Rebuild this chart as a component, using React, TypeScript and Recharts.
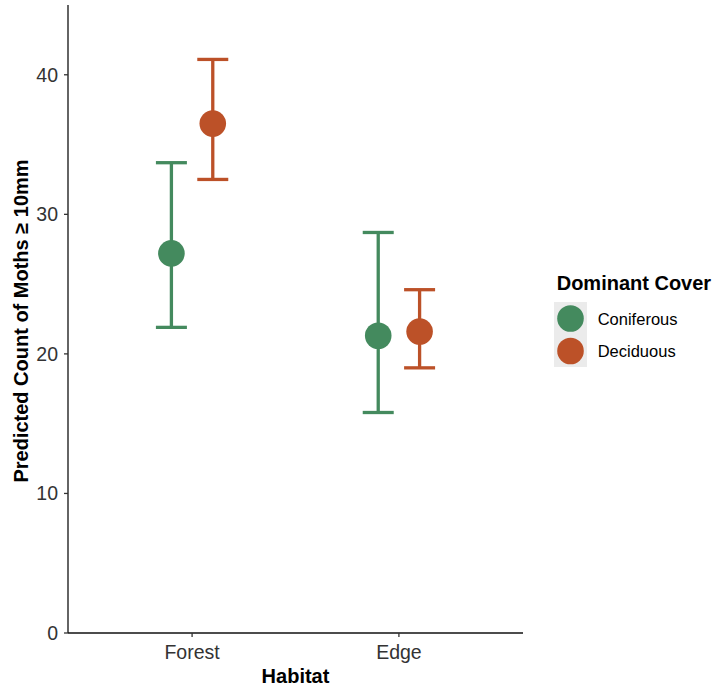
import React from 'react';
import { ScatterChart, Scatter, XAxis, YAxis, ErrorBar } from 'recharts';

const habitats = ['Forest', 'Edge'];
const coverTypes = ['Coniferous', 'Deciduous'];
const coniferousFit = [27.2, 21.3];
const coniferousLower = [21.9, 15.8];
const coniferousUpper = [33.7, 28.7];
const deciduousFit = [36.5, 21.6];
const deciduousLower = [32.5, 19.0];
const deciduousUpper = [41.1, 24.6];
const yTicks = [0, 10, 20, 30, 40];

const GREEN = '#448A5E';
const ORANGE = '#BC5128';
const FONT = '"Liberation Sans", Arial, Helvetica, sans-serif';
const DODGE = 0.1;

const build = (fit: number[], lower: number[], upper: number[], offset: number) =>
  habitats.map((h, i) => ({
    habitat: h,
    x: i + 1 + offset,
    y: fit[i],
    err: [fit[i] - lower[i], upper[i] - fit[i]],
  }));

const coniferousData = build(coniferousFit, coniferousLower, coniferousUpper, -DODGE);
const deciduousData = build(deciduousFit, deciduousLower, deciduousUpper, DODGE);

const dot = (color: string) => (props: any) => (
  <circle cx={props.cx} cy={props.cy} r={13.3} fill={color} />
);

const XLabel = (props: any) => {
  const vb = props.viewBox || {};
  return (
    <text
      x={vb.x + vb.width / 2}
      y={vb.y + vb.height - 6}
      textAnchor="middle"
      fontFamily={FONT}
      fontWeight={700}
      fontSize={20}
      fill="#000"
    >
      Habitat
    </text>
  );
};

const YLabel = (props: any) => {
  const vb = props.viewBox || {};
  const cx = 27.5;
  const cy = vb.y + vb.height / 2 + 2;
  return (
    <text
      x={cx}
      y={cy}
      transform={`rotate(-90 ${cx} ${cy})`}
      textAnchor="middle"
      fontFamily={FONT}
      fontWeight={700}
      fontSize={20}
      fill="#000"
    >
      Predicted Count of Moths ≥ 10mm
    </text>
  );
};

const colors = [GREEN, ORANGE];

export default function App() {
  return (
    <div style={{ position: 'absolute', left: 0, top: 0, width: 717, height: 689, background: '#fff' }}>
      <ScatterChart width={717} height={689} margin={{ top: 5, right: 194, bottom: 0, left: 0 }}>
        <XAxis
          type="number"
          dataKey="x"
          domain={[0.4, 2.6]}
          ticks={[1, 2]}
          tickFormatter={(v: number) => habitats[Math.round(v) - 1]}
          allowDataOverflow
          height={56}
          axisLine={{ stroke: '#111', strokeWidth: 1.3 }}
          tickLine={{ stroke: '#333', strokeWidth: 1.3 }}
          tickSize={4}
          tickMargin={8}
          tick={{ fill: '#333', fontSize: 19.5, fontFamily: FONT }}
          label={XLabel}
        />
        <YAxis
          type="number"
          dataKey="y"
          domain={[0, 45]}
          ticks={yTicks}
          allowDataOverflow
          width={68}
          axisLine={{ stroke: '#111', strokeWidth: 1.3 }}
          tickLine={{ stroke: '#333', strokeWidth: 1.3 }}
          tickSize={4}
          tickMargin={6}
          tick={{ fill: '#333', fontSize: 19.5, fontFamily: FONT }}
          label={YLabel}
        />
        <Scatter
          name={coverTypes[0]}
          data={coniferousData}
          fill={GREEN}
          shape={dot(GREEN)}
          isAnimationActive={false}
        >
          <ErrorBar dataKey="err" direction="y" width={15.5} stroke={GREEN} strokeWidth={3.3} isAnimationActive={false} />
        </Scatter>
        <Scatter
          name={coverTypes[1]}
          data={deciduousData}
          fill={ORANGE}
          shape={dot(ORANGE)}
          isAnimationActive={false}
        >
          <ErrorBar dataKey="err" direction="y" width={15.5} stroke={ORANGE} strokeWidth={3.3} isAnimationActive={false} />
        </Scatter>
      </ScatterChart>
      <svg
        width={165}
        height={100}
        style={{ position: 'absolute', left: 554, top: 270 }}
      >
        <text x={2.7} y={20} fontFamily={FONT} fontWeight={700} fontSize={20} fill="#000">
          Dominant Cover
        </text>
        <rect x={0} y={32} width={33} height={65} fill="#EBEBEB" />
        {coverTypes.map((c, i) => (
          <g key={c}>
            <circle cx={16.5} cy={48.5 + i * 32.5} r={13.3} fill={colors[i]} />
            <text x={43.7} y={48.5 + i * 32.5 + 6} fontFamily={FONT} fontSize={16.5} fill="#000">
              {c}
            </text>
          </g>
        ))}
      </svg>
    </div>
  );
}
